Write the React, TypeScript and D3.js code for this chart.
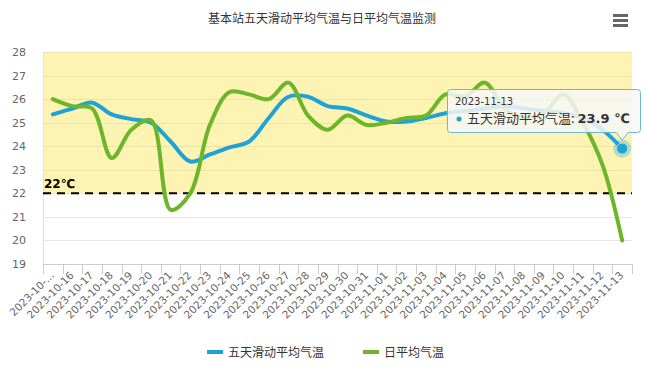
import React, { useEffect, useRef } from "react";
import * as d3 from "d3";

const categories = [
  "2023-10-15", "2023-10-16", "2023-10-17", "2023-10-18", "2023-10-19",
  "2023-10-20", "2023-10-21", "2023-10-22", "2023-10-23", "2023-10-24",
  "2023-10-25", "2023-10-26", "2023-10-27", "2023-10-28", "2023-10-29",
  "2023-10-30", "2023-10-31", "2023-11-01", "2023-11-02", "2023-11-03",
  "2023-11-04", "2023-11-05", "2023-11-06", "2023-11-07", "2023-11-08",
  "2023-11-09", "2023-11-10", "2023-11-11", "2023-11-12", "2023-11-13",
];

// 五天滑动平均气温
const movingAvg = [
  25.35, 25.6, 25.85, 25.35, 25.15, 25.0, 24.2, 23.35, 23.65, 23.95,
  24.2, 25.2, 26.1, 26.1, 25.7, 25.6, 25.3, 25.05, 25.05, 25.2,
  25.4, 25.5, 25.6, 25.7, 25.6, 25.5, 25.4, 25.2, 24.7, 23.9,
];

// 日平均气温
const dailyAvg = [
  26.0, 25.7, 25.6, 23.5, 24.7, 25.1, 21.3, 22.0, 24.9, 26.3,
  26.2, 26.0, 26.7, 25.3, 24.7, 25.3, 24.9, 25.0, 25.2, 25.3,
  26.2, 26.1, 26.7, 25.6, 25.2, 25.4, 26.2, 25.0, 23.2, 20.0,
];

const yTicks = [19, 20, 21, 22, 23, 24, 25, 26, 27, 28];
const threshold = 22;

const title = "基本站五天滑动平均气温与日平均气温监测";
const seriesNames = ["五天滑动平均气温", "日平均气温"];
const seriesColors = ["#1fa3d6", "#6db52a"];

const font = "'DejaVu Sans', 'Noto Sans CJK SC', sans-serif";
const cjk = "'Noto Sans CJK SC', 'DejaVu Sans', sans-serif";

export default function App() {
  const ref = useRef<SVGSVGElement>(null);

  useEffect(() => {
    document.body.style.margin = "0";
    const svg = d3.select(ref.current);
    svg.selectAll("*").remove();

    const margin = { top: 52, right: 13, bottom: 103, left: 43 };
    const width = 645 - margin.left - margin.right;
    const height = 367 - margin.top - margin.bottom;

    // title
    svg
      .append("text")
      .attr("x", 322)
      .attr("y", 23)
      .attr("text-anchor", "middle")
      .attr("font-family", cjk)
      .attr("font-size", "12px")
      .attr("fill", "#333")
      .text(title);

    // menu icon
    [0, 5, 10].forEach((dy) => {
      svg
        .append("rect")
        .attr("x", 613)
        .attr("y", 14 + dy)
        .attr("width", 15)
        .attr("height", 3)
        .attr("fill", "#666");
    });

    const g = svg
      .append("g")
      .attr("transform", `translate(${margin.left},${margin.top})`);

    const x = d3.scaleBand().domain(categories).range([0, width]);
    const y = d3.scaleLinear().domain([19, 28]).range([height, 0]);
    const cx = (d: string) => (x(d) as number) + x.bandwidth() / 2;

    // plot band (22 - 28)
    g.append("rect")
      .attr("x", 0)
      .attr("y", y(28))
      .attr("width", width)
      .attr("height", y(threshold) - y(28))
      .attr("fill", "#fdf3b2");

    // grid
    g.selectAll(".grid")
      .data(yTicks)
      .enter()
      .append("line")
      .attr("x1", 0)
      .attr("x2", width)
      .attr("y1", (d) => Math.round(y(d)) + 0.5)
      .attr("y2", (d) => Math.round(y(d)) + 0.5)
      .attr("stroke", (d) => (d > threshold ? "#ece3a8" : "#e6e6e6"))
      .attr("stroke-width", 1);

    // y axis labels
    g.selectAll(".ylab")
      .data(yTicks)
      .enter()
      .append("text")
      .attr("x", -17)
      .attr("y", (d) => y(d) + 4)
      .attr("text-anchor", "end")
      .attr("font-family", font)
      .attr("font-size", "11px")
      .attr("fill", "#666")
      .text((d) => d);

    // y axis line
    g.append("line")
      .attr("x1", 0.5)
      .attr("x2", 0.5)
      .attr("y1", 0)
      .attr("y2", height)
      .attr("stroke", "#e0e0e0");

    // x axis
    const xAxis = g
      .append("g")
      .attr("transform", `translate(0,${height})`);
    xAxis
      .append("line")
      .attr("x1", 0)
      .attr("x2", width)
      .attr("y1", 0.5)
      .attr("y2", 0.5)
      .attr("stroke", "#ccc");
    xAxis
      .selectAll(".tick")
      .data(d3.range(categories.length + 1))
      .enter()
      .append("line")
      .attr("x1", (i) => Math.round(i * x.bandwidth()) + 0.5)
      .attr("x2", (i) => Math.round(i * x.bandwidth()) + 0.5)
      .attr("y1", 0)
      .attr("y2", 10)
      .attr("stroke", "#ccc");
    xAxis
      .selectAll(".xlab")
      .data(categories)
      .enter()
      .append("text")
      .attr("transform", (d) => `translate(${cx(d) + 2},${12}) rotate(-45)`)
      .attr("text-anchor", "end")
      .attr("font-family", font)
      .attr("font-size", "10.5px")
      .attr("fill", "#666")
      .text((d, i) => (i === 0 ? "2023-10-..." : d));

    // threshold line
    g.append("line")
      .attr("x1", 0)
      .attr("x2", width)
      .attr("y1", y(threshold))
      .attr("y2", y(threshold))
      .attr("stroke", "#000")
      .attr("stroke-width", 2)
      .attr("stroke-dasharray", "8,6");
    g.append("text")
      .attr("x", 1)
      .attr("y", y(threshold) - 5)
      .attr("font-family", font)
      .attr("font-size", "12px")
      .attr("font-weight", "bold")
      .attr("fill", "#000")
      .text("22℃");

    // lines
    const line = d3
      .line<number>()
      .x((d, i) => cx(categories[i]))
      .y((d) => y(d))
      .curve(d3.curveCatmullRom.alpha(0.5));

    [movingAvg, dailyAvg].forEach((data, k) => {
      g.append("path")
        .datum(data)
        .attr("d", line)
        .attr("fill", "none")
        .attr("stroke", seriesColors[k])
        .attr("stroke-width", 4)
        .attr("stroke-linejoin", "round")
        .attr("stroke-linecap", "round");
    });

    // hovered point
    const last = categories.length - 1;
    const px = cx(categories[last]);
    const py = y(movingAvg[last]);
    g.append("circle")
      .attr("cx", px)
      .attr("cy", py)
      .attr("r", 9)
      .attr("fill", seriesColors[0])
      .attr("opacity", 0.3);
    g.append("circle")
      .attr("cx", px)
      .attr("cy", py)
      .attr("r", 5.5)
      .attr("fill", seriesColors[0])
      .attr("stroke", "#9fdcf2")
      .attr("stroke-width", 1);

    // tooltip
    const tx = 404;
    const ty = 37;
    const tw = 194;
    const th = 44;
    const tip = g.append("g").attr("transform", `translate(${tx},${ty})`);
    const ax = px - tx;
    tip
      .append("path")
      .attr(
        "d",
        `M3.5,0.5 H${tw - 3.5} Q${tw - 0.5},0.5 ${tw - 0.5},3.5 V${th - 3.5} Q${tw - 0.5},${th - 0.5} ${tw - 3.5},${th - 0.5} H${ax + 6} L${ax},${th + 7} L${ax - 6},${th - 0.5} H3.5 Q0.5,${th - 0.5} 0.5,${th - 3.5} V3.5 Q0.5,0.5 3.5,0.5 Z`
      )
      .attr("fill", "rgba(247,247,247,0.85)")
      .attr("stroke", "#6fb6cf")
      .attr("stroke-width", 1);
    tip
      .append("text")
      .attr("x", 8)
      .attr("y", 16)
      .attr("font-family", font)
      .attr("font-size", "10px")
      .attr("fill", "#333")
      .text(categories[last]);
    tip
      .append("circle")
      .attr("cx", 12)
      .attr("cy", 30)
      .attr("r", 2.5)
      .attr("fill", seriesColors[0]);
    const t2 = tip
      .append("text")
      .attr("x", 20)
      .attr("y", 34)
      .attr("font-family", cjk)
      .attr("font-size", "13px")
      .attr("fill", "#333");
    t2.append("tspan").text(seriesNames[0] + ": ");
    t2.append("tspan")
      .attr("font-weight", "bold")
      .attr("font-family", font)
      .text(movingAvg[last] + " ℃");

    // legend
    const legendItems = [
      { name: seriesNames[0], color: seriesColors[0], x: 207 },
      { name: seriesNames[1], color: seriesColors[1], x: 363 },
    ];
    legendItems.forEach((item) => {
      svg
        .append("line")
        .attr("x1", item.x)
        .attr("x2", item.x + 16)
        .attr("y1", 352)
        .attr("y2", 352)
        .attr("stroke", item.color)
        .attr("stroke-width", 4);
      svg
        .append("text")
        .attr("x", item.x + 21)
        .attr("y", 357)
        .attr("font-family", cjk)
        .attr("font-size", "12px")
        .attr("fill", "#333")
        .text(item.name);
    });
  }, []);

  return (
    <svg
      ref={ref}
      width={645}
      height={367}
      style={{ display: "block", background: "#fff" }}
    />
  );
}
